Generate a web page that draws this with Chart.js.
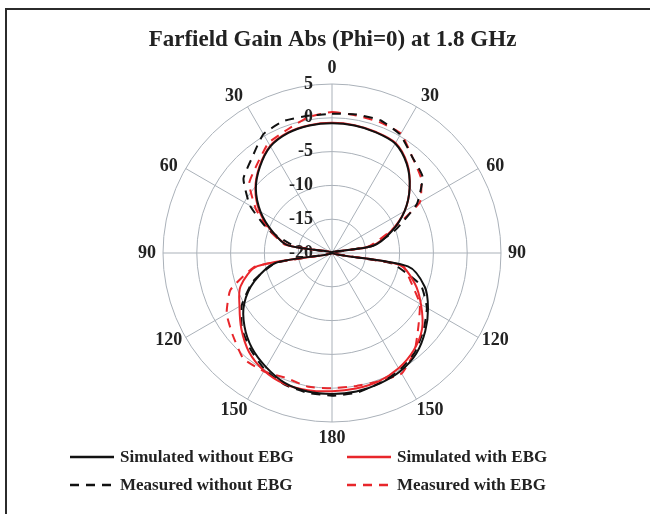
<!DOCTYPE html>
<html lang="en">
<head>
    <meta charset="UTF-8">
    <title>Farfield Gain Abs (Phi=0) at 1.8 GHz</title>
    <script src="https://cdn.jsdelivr.net/npm/chart.js"></script>
    <style>
        body { margin: 0; background: #ffffff; font-family: "Liberation Serif", "Times New Roman", serif; }
        #wrap { position: relative; width: 650px; height: 514px; overflow: hidden; }
        #frame { position: absolute; left: 5px; top: 8px; width: 660px; height: 520px; border-top: 2px solid #2b2b2b; border-left: 2px solid #2b2b2b; }
        #chart { position: absolute; left: 0; top: 0; }
        .item { position: absolute; height: 20px; display: flex; align-items: center; font-weight: bold; font-size: 17px; color: #222; white-space: nowrap; }
        .item svg { margin-right: 6px; }
    </style>
</head>
<body>
<div id="wrap">
    <div id="frame"></div>
    <canvas id="chart" width="650" height="514"></canvas>
    <div id="legend"></div>
</div>

<script>
    // angle of each sample, degrees clockwise from the top
    const angles = [0, 10, 20, 30, 40, 50, 60, 70, 80, 90, 100, 110, 120, 130, 140, 150, 160, 170,
                    180, 190, 200, 210, 220, 230, 240, 250, 260, 270, 280, 290, 300, 310, 320, 330, 340, 350];

    // gain in dB
    const simWithout = [-0.8, -0.85, -1.0, -1.3, -2.8, -5.0, -7.6, -10.6, -13.8, -20, -8.6, -5.4, -3.6, -2.0, -0.6, 0.2, 0.55, 0.8,
                        0.85, 0.8, 0.45, -0.5, -1.6, -3.1, -5.0, -7.8, -11.5, -20, -13.3, -10.6, -7.8, -5.3, -3.4, -1.8, -1.1, -0.85];
    const simWith    = [-0.75, -0.8, -0.95, -1.2, -2.7, -5.0, -7.6, -10.8, -14.0, -20, -9.8, -7.0, -4.8, -2.6, -1.2, -0.3, 0.2, 0.35,
                        0.45, 0.6, 0.6, 0.1, -0.9, -2.5, -4.2, -5.6, -8.8, -20, -13.5, -10.5, -7.6, -5.2, -3.3, -1.7, -1.0, -0.8];
    const measWithout = [0.6, 0.8, 0.9, 0.2, -1.5, -2.5, -5.5, -10.0, -14.0, -20, -11.0, -6.0, -3.8, -2.3, -0.9, 0.0, 0.5, 1.0,
                         1.1, 1.0, 0.7, -0.1, -1.3, -2.6, -4.6, -7.5, -11.5, -20, -14.5, -10.0, -6.0, -2.9, -1.6, 0.3, 0.8, 0.6];
    const measWith   = [0.85, 0.65, 0.6, 0.4, -1.5, -2.8, -5.0, -11.0, -14.5, -20, -9.4, -7.6, -5.0, -3.3, -1.0, 0.6, 0.2, 0.0,
                        0.0, 0.1, -0.3, 0.2, 0.4, -0.9, -2.0, -4.0, -8.5, -20, -13.0, -10.1, -7.0, -4.0, -2.8, -1.2, -0.6, 0.4];

    const rTicks = [-20, -15, -10, -5, 0, 5];

    const seriesNames = ['Simulated without EBG', 'Simulated with EBG', 'Measured without EBG', 'Measured with EBG'];
    const seriesData = [simWithout, simWith, measWithout, measWith];
    const seriesColors = ['#111111', '#e8262b', '#111111', '#e8262b'];
    const seriesDash = [[], [], [9, 7], [9, 7]];

    const serif = '"Liberation Serif", "Times New Roman", serif';

    // tick labels left of the 0 deg spoke, angle labels centred just outside the rim
    const polarLabels = {
        id: 'polarLabels',
        beforeDatasetsDraw(chart) {
            const s = chart.scales.r;
            const ctx = chart.ctx;
            ctx.save();
            ctx.font = 'bold 18px ' + serif;
            ctx.fillStyle = '#222';
            ctx.textBaseline = 'middle';
            ctx.textAlign = 'right';
            rTicks.forEach(v => {
                const d = s.getDistanceFromCenterForValue(v);
                ctx.fillText(String(v), s.xCenter - 19, s.yCenter - d);
            });
            ctx.textAlign = 'center';
            angles.forEach((a, i) => {
                if (a % 30 !== 0) return;
                // diagonal labels lean a little towards the horizontal
                const lean = 2.3 * Math.abs(Math.sin(2 * a * Math.PI / 180)) * (Math.cos(a * Math.PI / 180) > 0 ? 1 : -1) *
                             (Math.sin(a * Math.PI / 180) >= 0 ? 1 : -1);
                const ang = s.getIndexAngle(i) - Math.PI / 2 + lean * Math.PI / 180;
                const rad = s.drawingArea + 16;
                ctx.fillText(String(a <= 180 ? a : 360 - a), s.xCenter + Math.cos(ang) * rad, s.yCenter + Math.sin(ang) * rad);
            });
            ctx.restore();
        }
    };

    new Chart(document.getElementById('chart'), {
        type: 'radar',
        data: {
            labels: angles,
            datasets: seriesData.map((d, i) => ({
                label: seriesNames[i],
                data: d,
                borderColor: seriesColors[i],
                borderWidth: 2,
                borderDash: seriesDash[i],
                fill: false,
                pointRadius: 0,
                tension: i < 2 ? 0.3 : 0.15
            }))
        },
        options: {
            responsive: false,
            animation: false,
            layout: { padding: { left: 15, right: 0, top: 0, bottom: 91 } },
            plugins: {
                legend: { display: false },
                tooltip: { enabled: false },
                title: {
                    display: true,
                    text: 'Farfield Gain Abs (Phi=0) at 1.8 GHz',
                    color: '#222',
                    font: { family: serif, size: 23, weight: 'bold' },
                    padding: { top: 26, bottom: 30 }
                }
            },
            scales: {
                r: {
                    min: -20,
                    max: 5,
                    ticks: { stepSize: 5, display: false },
                    grid: { circular: true, color: '#aab1b9', lineWidth: 1 },
                    angleLines: {
                        color: '#aab1b9',
                        lineWidth: ctx => (ctx.index % 3 === 0 ? 1 : 0)
                    },
                    pointLabels: { display: false }
                }
            }
        },
        plugins: [polarLabels]
    });

    // legend in two columns below the plot
    const legendPos = [[70, 447], [347, 447], [70, 475], [347, 475]];
    const legend = document.getElementById('legend');
    seriesNames.forEach((name, i) => {
        const el = document.createElement('div');
        el.className = 'item';
        el.style.left = legendPos[i][0] + 'px';
        el.style.top = legendPos[i][1] + 'px';
        const dash = seriesDash[i].length ? ' stroke-dasharray="' + seriesDash[i].join(' ') + '"' : '';
        el.innerHTML = '<svg width="44" height="6"><line x1="0" y1="3" x2="44" y2="3" stroke="' + seriesColors[i] +
            '" stroke-width="2.5"' + dash + '/></svg><span>' + name + '</span>';
        legend.appendChild(el);
    });
</script>
</body>
</html>
